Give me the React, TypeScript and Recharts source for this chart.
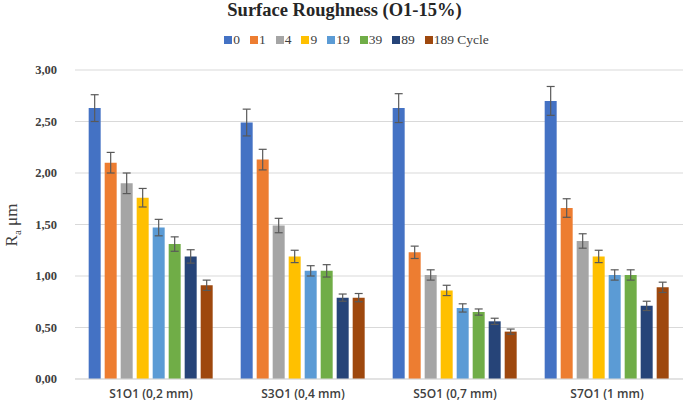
import { Bar, BarChart, CartesianGrid, ErrorBar, XAxis, YAxis } from 'recharts';

// Surface roughness Ra per sample, grouped by cycle count.
const CATEGORIES = ['S1O1 (0,2 mm)', 'S3O1 (0,4 mm)', 'S5O1 (0,7 mm)', 'S7O1 (1 mm)'];
const SERIES = ['0', '1', '4', '9', '19', '39', '89', '189 Cycle'];
const COLORS = ['#4472C4', '#ED7D31', '#A5A5A5', '#FFC000', '#5B9BD5', '#70AD47', '#264478', '#9E480E'];

// values[series][category]
const VALUES = [
  [2.63, 2.49, 2.63, 2.7],
  [2.1, 2.13, 1.23, 1.66],
  [1.9, 1.49, 1.01, 1.34],
  [1.76, 1.19, 0.86, 1.19],
  [1.47, 1.05, 0.69, 1.01],
  [1.31, 1.05, 0.65, 1.01],
  [1.19, 0.79, 0.56, 0.71],
  [0.91, 0.79, 0.46, 0.89],
];
const ERRORS = [
  [0.13, 0.13, 0.14, 0.14],
  [0.1, 0.1, 0.06, 0.09],
  [0.1, 0.07, 0.05, 0.07],
  [0.09, 0.06, 0.05, 0.06],
  [0.08, 0.05, 0.04, 0.05],
  [0.07, 0.06, 0.03, 0.05],
  [0.065, 0.035, 0.03, 0.045],
  [0.05, 0.04, 0.025, 0.05],
];
const Y_TICKS = [0, 0.5, 1, 1.5, 2, 2.5, 3];

const SERIF = "'Liberation Serif', 'Times New Roman', serif";
const GRID = '#D9D9D9';

const data = CATEGORIES.map((name, c) => {
  const row: Record<string, string | number> = { name };
  SERIES.forEach((s, i) => {
    row[`v${i}`] = VALUES[i][c];
    row[`e${i}`] = ERRORS[i][c];
  });
  return row;
});

const comma = (v: number) => v.toFixed(2).replace('.', ',');

function YLabel() {
  return (
    <text
      transform="translate(17, 225) rotate(-90)"
      textAnchor="middle"
      fontFamily={SERIF}
      fontSize={17}
      fill="#404040"
    >
      R<tspan fontSize={11} dy={4}>a</tspan>
      <tspan dy={-4}>{'  μm'}</tspan>
    </text>
  );
}

export default function App() {
  return (
    <div style={{ position: 'absolute', left: 0, top: 0, width: 685, height: 407, background: '#fff' }}>
      <div
        style={{
          position: 'absolute',
          top: 1,
          left: 2,
          width: 685,
          textAlign: 'center',
          fontFamily: SERIF,
          fontWeight: 700,
          fontSize: 18.5,
          lineHeight: '19px',
          color: '#262626',
        }}
      >
        Surface Roughness (O1-15%)
      </div>
      <div
        style={{
          position: 'absolute',
          top: 32,
          left: 14,
          width: 685,
          display: 'flex',
          justifyContent: 'center',
          gap: 10,
          fontFamily: SERIF,
          fontSize: 13.5,
          color: '#404040',
        }}
      >
        {SERIES.map((s, i) => (
          <span key={s} style={{ display: 'flex', alignItems: 'center', gap: 1 }}>
            <span style={{ width: 8, height: 8, background: COLORS[i], display: 'inline-block' }} />
            {s}
          </span>
        ))}
      </div>
      <BarChart
        width={685}
        height={407}
        data={data}
        margin={{ top: 70, right: 2, bottom: 0, left: 0 }}
        barGap={4}
        barCategoryGap="9%"
      >
        <CartesianGrid stroke={GRID} vertical={false} />
        <XAxis
          dataKey="name"
          stroke={GRID}
          tickLine={false}
          height={28}
          tickMargin={4}
          tick={{ fontFamily: "'Open Sans', sans-serif", fontWeight: 600, fontSize: 12, fill: '#404040' }}
        />
        <YAxis
          domain={[0, 3]}
          ticks={Y_TICKS}
          tickFormatter={comma}
          width={75}
          axisLine={false}
          tickLine={false}
          tickMargin={12}
          tick={{ fontFamily: SERIF, fontWeight: 700, fontSize: 12.5, fill: '#404040' }}
          label={<YLabel />}
        />
        {SERIES.map((s, i) => (
          <Bar key={s} dataKey={`v${i}`} name={s} fill={COLORS[i]} isAnimationActive={false}>
            <ErrorBar dataKey={`e${i}`} width={4} stroke="#595959" strokeWidth={1.2} />
          </Bar>
        ))}
      </BarChart>
    </div>
  );
}
